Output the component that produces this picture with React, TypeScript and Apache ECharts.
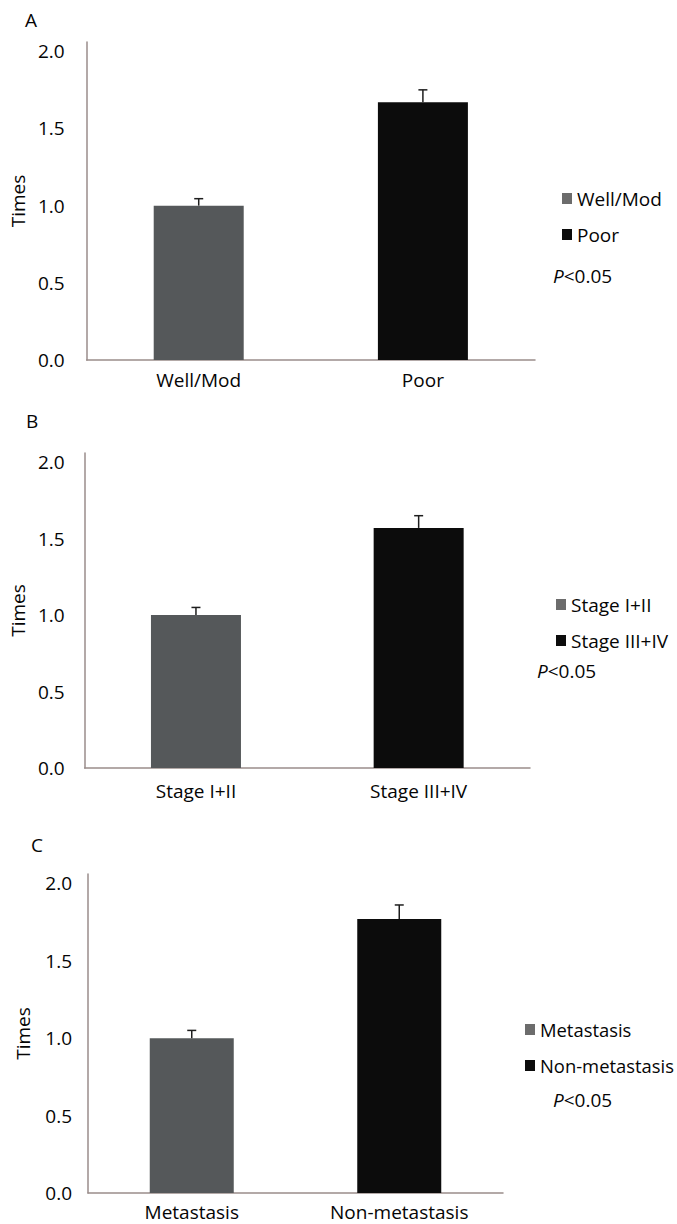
import React, { useEffect, useRef } from "react";
import * as echarts from "echarts";

const panelLetters = ["A", "B", "C"];
const catsA = ["Well/Mod", "Poor"];
const catsB = ["Stage I+II", "Stage III+IV"];
const catsC = ["Metastasis", "Non-metastasis"];
const valuesA = [1.0, 1.67];
const valuesB = [1.0, 1.57];
const valuesC = [1.0, 1.77];
const errorsA = [0.045, 0.08];
const errorsB = [0.05, 0.08];
const errorsC = [0.05, 0.09];
const yTicks = [0, 0.5, 1.0, 1.5, 2.0];
const yName = "Times";

const FONT = "'Open Sans', 'Noto Sans', sans-serif";
const FS = 19;
const TXT = "#050505";
const AXIS = "#9a8d8b";
const GRAY = "#55585a";
const BLACK = "#0c0c0c";
const LEG_GRAY = "#6c6c6c";

const panels = [
  { cats: catsA, vals: valuesA, errs: errorsA, grid: { left: 86, top: 42, width: 449, height: 318 }, barW: 90, labMargin: 22, nameGap: 57, xMargin: 10, legLeft: 562, legTop: 187, legFs: 19, p: [553, 278], letter: [25, 22] },
  { cats: catsB, vals: valuesB, errs: errorsB, grid: { left: 83, top: 453, width: 447, height: 315 }, barW: 90, labMargin: 20, nameGap: 54, xMargin: 13, legLeft: 556, legTop: 593, legFs: 19, p: [537, 673], letter: [26, 423] },
  { cats: catsC, vals: valuesC, errs: errorsC, grid: { left: 88, top: 874, width: 415, height: 319 }, barW: 84, labMargin: 16, nameGap: 56, xMargin: 9, legLeft: 525, legTop: 1018, legFs: 18.4, p: [553, 1102], letter: [31, 847] },
];

export default function App() {
  const ref = useRef<HTMLDivElement>(null);
  useEffect(() => {
    if (!ref.current) return;
    const chart = echarts.init(ref.current, undefined, { renderer: "svg" });
    const grids: any[] = [];
    const xAxes: any[] = [];
    const yAxes: any[] = [];
    const series: any[] = [];
    const legends: any[] = [];
    const graphics: any[] = [];
    panels.forEach((pn, i) => {
      grids.push({ ...pn.grid, containLabel: false });
      xAxes.push({
        type: "category",
        gridIndex: i,
        data: pn.cats,
        axisLine: { show: true, lineStyle: { color: AXIS, width: 1.5 } },
        axisTick: { show: false },
        axisLabel: { color: TXT, fontSize: FS, fontFamily: FONT, margin: pn.xMargin, interval: 0 },
        splitLine: { show: false },
      });
      yAxes.push({
        type: "value",
        gridIndex: i,
        min: 0,
        max: 2.06,
        interval: 0.5,
        name: yName,
        nameLocation: "middle",
        nameGap: pn.nameGap,
        nameRotate: 90,
        nameTextStyle: { color: TXT, fontSize: FS, fontFamily: FONT },
        axisLine: { show: true, lineStyle: { color: AXIS, width: 1.5 } },
        axisTick: { show: false },
        splitLine: { show: false },
        axisLabel: {
          color: TXT,
          fontSize: FS,
          fontFamily: FONT,
          margin: pn.labMargin,
          formatter: (v: number) => (yTicks.some((t) => Math.abs(t - v) < 1e-6) ? v.toFixed(1) : ""),
        },
      });
      const colors = [GRAY, BLACK];
      pn.cats.forEach((c, j) => {
        series.push({
          type: "bar",
          name: c,
          xAxisIndex: i,
          yAxisIndex: i,
          barWidth: pn.barW,
          barGap: "-100%",
          data: pn.vals.map((v, k) => (k === j ? v : "-")),
          itemStyle: { color: colors[j] },
          z: 2,
        });
      });
      series.push({
        type: "custom",
        name: "err" + i,
        xAxisIndex: i,
        yAxisIndex: i,
        z: 5,
        data: pn.vals.map((v, k) => [k, v, pn.errs[k]]),
        renderItem: (params: any, api: any) => {
          const x = api.value(0);
          const v = api.value(1);
          const e = api.value(2);
          const p0 = api.coord([x, v]);
          const p1 = api.coord([x, v + e]);
          const st = { stroke: "#1e1e1e", lineWidth: 1.5 };
          return {
            type: "group",
            children: [
              { type: "line", shape: { x1: p0[0], y1: p0[1], x2: p1[0], y2: p1[1] }, style: st },
              { type: "line", shape: { x1: p1[0] - 4.5, y1: p1[1], x2: p1[0] + 4.5, y2: p1[1] }, style: st },
            ],
          };
        },
      });
      legends.push({
        left: pn.legLeft,
        top: pn.legTop,
        orient: "vertical",
        icon: "rect",
        itemWidth: 10,
        itemHeight: 11,
        itemGap: 13,
        padding: 0,
        selectedMode: false,
        textStyle: { color: TXT, fontSize: pn.legFs, fontFamily: FONT, lineHeight: 23 },
        data: [
          { name: pn.cats[0], itemStyle: { color: LEG_GRAY } },
          { name: pn.cats[1], itemStyle: { color: BLACK } },
        ],
      });
      graphics.push({
        type: "text",
        left: pn.p[0],
        top: pn.p[1] - 12,
        style: {
          text: "{i|P}{n|<0.05}",
          rich: {
            i: { fontStyle: "italic", fontSize: FS, fontFamily: FONT, fill: TXT },
            n: { fontSize: FS, fontFamily: FONT, fill: TXT },
          },
          fill: TXT,
          fontSize: FS,
          fontFamily: FONT,
        },
      });
      graphics.push({
        type: "text",
        left: pn.letter[0],
        top: pn.letter[1] - 12,
        style: { text: panelLetters[i], fontSize: FS, fontFamily: FONT, fill: TXT },
      });
    });
    chart.setOption({
      animation: false,
      backgroundColor: "#ffffff",
      grid: grids,
      xAxis: xAxes,
      yAxis: yAxes,
      series,
      legend: legends,
      graphic: graphics,
    });
    return () => chart.dispose();
  }, []);
  return (
    <div style={{ position: "absolute", left: 0, top: 0, width: 677, height: 1224, overflow: "hidden", background: "#fff" }}>
      <div ref={ref} style={{ width: 677, height: 1224 }} />
    </div>
  );
}
